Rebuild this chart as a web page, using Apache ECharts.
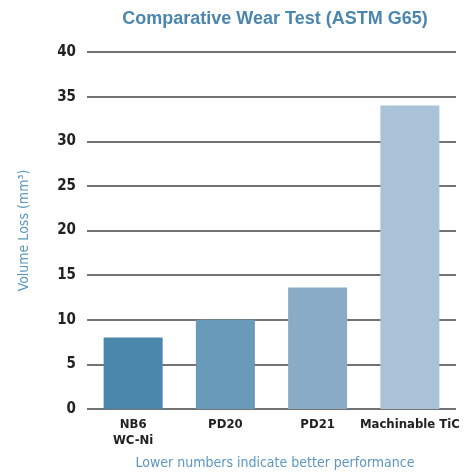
<!DOCTYPE html>
<html>
<head>
<meta charset="utf-8">
<script src="https://cdn.jsdelivr.net/npm/echarts@6/dist/echarts.min.js"></script>
<style>
  html, body { margin: 0; padding: 0; background: #fff; }
  #chart { width: 473px; height: 472px; }
</style>
</head>
<body>
<div id="chart"></div>
<script>
// data
const categories = ["NB6\nWC-Ni", "PD20", "PD21", "Machinable TiC"]
const volumeLoss = [8, 10, 13.6, 34]
const barColors = ["#4b87aa", "#6a9aba", "#8aabc6", "#a9c2d7"]
const yTicks = [0, 5, 10, 15, 20, 25, 30, 35, 40]

const narrow = "'DejaVu Sans Condensed', Roboto, sans-serif"
const myChart = echarts.init(document.getElementById("chart"))

myChart.setOption({
    animation: false,
    title: [
        {
            text: "Comparative Wear Test (ASTM G65)",
            left: 270,
            top: 5,
            textAlign: "center",
            textStyle: {
                color: "#4a86ae",
                fontSize: 18,
                fontWeight: "bold",
                fontFamily: "Liberation Sans, sans-serif",
            },
        },
        {
            text: "Lower numbers indicate better performance",
            left: 270,
            top: 451,
            textAlign: "center",
            textStyle: {
                color: "#5b97c1",
                fontSize: 14,
                fontWeight: "normal",
                fontFamily: narrow,
            },
        },
    ],
    grid: {
        left: 87,
        right: 17,
        top: 52,
        bottom: 63,
    },
    xAxis: {
        type: "category",
        data: categories,
        axisLine: { show: false },
        axisTick: { show: false },
        axisLabel: {
            color: "#222",
            fontSize: 13,
            fontWeight: "bold",
            fontFamily: narrow,
            lineHeight: 16,
            margin: 8,
            interval: 0,
        },
    },
    yAxis: {
        type: "value",
        min: yTicks[0],
        max: yTicks[yTicks.length - 1],
        interval: 5,
        name: "Volume Loss (mm³)",
        nameLocation: "middle",
        nameGap: 56,
        nameTextStyle: {
            color: "#5b97c1",
            fontSize: 14,
            fontFamily: narrow,
        },
        axisLine: { show: false },
        axisTick: { show: false },
        axisLabel: {
            color: "#222",
            fontSize: 15,
            fontWeight: "bold",
            fontFamily: narrow,
            margin: 11,
        },
        splitLine: {
            lineStyle: { color: "#444", width: 1.5 },
        },
    },
    series: [
        {
            type: "bar",
            barWidth: 59,
            data: volumeLoss.map(function (v, i) {
                return { value: v, itemStyle: { color: barColors[i] } }
            }),
        },
    ],
})

window.addEventListener("resize", function () {
    myChart.resize()
})
</script>
</body>
</html>
